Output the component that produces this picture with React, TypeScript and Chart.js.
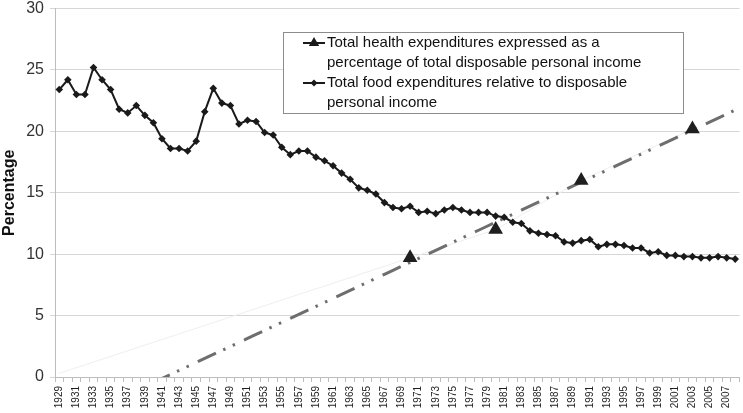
import React, { useEffect, useRef } from 'react';
import { Chart, registerables } from 'chart.js';

Chart.register(...registerables);

const years: number[] = [
  1929, 1930, 1931, 1932, 1933, 1934, 1935, 1936, 1937, 1938,
  1939, 1940, 1941, 1942, 1943, 1944, 1945, 1946, 1947, 1948,
  1949, 1950, 1951, 1952, 1953, 1954, 1955, 1956, 1957, 1958,
  1959, 1960, 1961, 1962, 1963, 1964, 1965, 1966, 1967, 1968,
  1969, 1970, 1971, 1972, 1973, 1974, 1975, 1976, 1977, 1978,
  1979, 1980, 1981, 1982, 1983, 1984, 1985, 1986, 1987, 1988,
  1989, 1990, 1991, 1992, 1993, 1994, 1995, 1996, 1997, 1998,
  1999, 2000, 2001, 2002, 2003, 2004, 2005, 2006, 2007, 2008,
];

const foodShare: number[] = [
  23.4, 24.2, 23.0, 23.0, 25.2, 24.2, 23.4, 21.8, 21.5, 22.1,
  21.3, 20.7, 19.4, 18.6, 18.6, 18.4, 19.2, 21.6, 23.5, 22.3,
  22.1, 20.6, 20.9, 20.8, 19.9, 19.7, 18.7, 18.1, 18.4, 18.4,
  17.9, 17.6, 17.2, 16.6, 16.1, 15.4, 15.2, 14.9, 14.2, 13.8,
  13.7, 13.9, 13.4, 13.5, 13.3, 13.6, 13.8, 13.6, 13.4, 13.4,
  13.4, 13.1, 13.0, 12.6, 12.5, 11.9, 11.7, 11.6, 11.5, 11.0,
  10.9, 11.1, 11.2, 10.6, 10.8, 10.8, 10.7, 10.5, 10.5, 10.1,
  10.2, 9.9, 9.9, 9.8, 9.8, 9.7, 9.7, 9.8, 9.7, 9.6,
];

const healthYears: number[] = [1970, 1980, 1990, 2003];
const healthShare: number[] = [9.7, 12.0, 16.0, 20.2];
const healthStartYear = 1929;
const healthStartValue = 0.3;

const yMin = 0;
const yMax = 30;
const yStep = 5;

const healthLabel: string[] = [
  'Total health expenditures expressed as a',
  'percentage of total disposable personal income',
];
const foodLabel: string[] = [
  'Total food expenditures relative to disposable',
  'personal income',
];
const yTitle = 'Percentage';

const FONT = '"Liberation Sans", Arial, Helvetica, sans-serif';

function regression(xs: number[], ys: number[]) {
  const n = xs.length;
  const mx = xs.reduce((a, b) => a + b, 0) / n;
  const my = ys.reduce((a, b) => a + b, 0) / n;
  let sxy = 0;
  let sxx = 0;
  for (let i = 0; i < n; i++) {
    sxy += (xs[i] - mx) * (ys[i] - my);
    sxx += (xs[i] - mx) * (xs[i] - mx);
  }
  const slope = sxy / sxx;
  return { slope, intercept: my - slope * mx };
}

const legendPlugin = {
  id: 'boxLegend',
  afterDraw(chart: any) {
    const ctx = chart.ctx as CanvasRenderingContext2D;
    const left = 283;
    const top = 32;
    const w = 400;
    const h = 81;
    ctx.save();
    ctx.fillStyle = '#ffffff';
    ctx.fillRect(left, top, w, h);
    ctx.strokeStyle = '#8c8c8c';
    ctx.lineWidth = 1;
    ctx.strokeRect(left + 0.5, top + 0.5, w, h);

    const textX = 327;
    const lineH = 20;
    const firstY = 43;
    ctx.font = `15px ${FONT}`;
    ctx.fillStyle = '#111111';
    ctx.textBaseline = 'middle';
    ctx.textAlign = 'left';
    const all = [...healthLabel, ...foodLabel];
    all.forEach((t, i) => ctx.fillText(t, textX, firstY + i * lineH));

    // health marker
    const hy = firstY;
    ctx.strokeStyle = '#1a1a1a';
    ctx.lineWidth = 2;
    ctx.beginPath();
    ctx.moveTo(303, hy);
    ctx.lineTo(325, hy);
    ctx.stroke();
    ctx.fillStyle = '#1a1a1a';
    ctx.beginPath();
    const r = 6;
    ctx.moveTo(314, hy - r);
    ctx.lineTo(314 + r * 0.866, hy + r * 0.5);
    ctx.lineTo(314 - r * 0.866, hy + r * 0.5);
    ctx.closePath();
    ctx.fill();

    // food marker
    const fy = firstY + 2 * lineH;
    ctx.beginPath();
    ctx.moveTo(303, fy);
    ctx.lineTo(325, fy);
    ctx.stroke();
    ctx.beginPath();
    const d = 3.5;
    ctx.moveTo(314, fy - d);
    ctx.lineTo(314 + d, fy);
    ctx.lineTo(314, fy + d);
    ctx.lineTo(314 - d, fy);
    ctx.closePath();
    ctx.fill();
    ctx.restore();
  },
};

export default function App() {
  const canvasRef = useRef<HTMLCanvasElement | null>(null);

  useEffect(() => {
    const canvas = canvasRef.current;
    if (!canvas) return;

    const healthPoints = years.map((y) => {
      const k = healthYears.indexOf(y);
      return k >= 0 ? healthShare[k] : null;
    });
    const healthConnector = years.map((y) => {
      if (y === healthStartYear) return healthStartValue;
      const k = healthYears.indexOf(y);
      return k >= 0 ? healthShare[k] : null;
    });
    const { slope, intercept } = regression(healthYears, healthShare);
    const trend = years.map((y) => intercept + slope * y);

    const chart = new Chart(canvas, {
      type: 'line',
      data: {
        labels: years.map(String),
        datasets: [
          {
            label: 'Health',
            data: healthPoints,
            showLine: false,
            pointStyle: 'triangle',
            pointRadius: 8.5,
            pointBackgroundColor: '#1f1f1f',
            pointBorderColor: '#1f1f1f',
            pointBorderWidth: 0,
            order: 0,
          },
          {
            label: 'Food',
            data: foodShare,
            borderColor: '#1a1a1a',
            borderWidth: 2,
            pointStyle: 'rectRot',
            pointRadius: 3.8,
            pointBackgroundColor: '#1a1a1a',
            pointBorderColor: '#1a1a1a',
            pointBorderWidth: 0,
            tension: 0,
            order: 1,
          },
          {
            label: 'Health trend',
            data: trend,
            borderColor: '#6e6e6e',
            borderWidth: 3,
            borderDash: [20, 8, 2.5, 8, 2.5, 10],
            pointRadius: 0,
            tension: 0,
            order: 2,
          },
          {
            label: 'Health connector',
            data: healthConnector,
            spanGaps: true,
            borderColor: '#eeeeee',
            borderWidth: 1,
            pointRadius: 0,
            tension: 0,
            order: 3,
          },
        ],
      },
      options: {
        animation: false,
        responsive: false,
        maintainAspectRatio: false,
        layout: { padding: { top: 0, right: 2, left: 0, bottom: 0 } },
        plugins: {
          legend: { display: false },
          tooltip: { enabled: false },
        },
        scales: {
          x: {
            type: 'category',
            offset: true,
            grid: {
              display: true,
              drawOnChartArea: false,
              drawTicks: true,
              tickLength: 5,
              color: '#bdbdbd',
              offset: true,
            },
            border: { color: '#bdbdbd' },
            ticks: {
              autoSkip: false,
              maxRotation: 90,
              minRotation: 90,
              padding: 4,
              color: '#1e1e1e',
              font: { family: FONT, size: 10 },
              callback: (_v: any, i: number) => (i % 2 === 0 ? String(years[i]) : ''),
            },
            afterFit: (s: any) => {
              s.height = 36;
              s.paddingLeft = 0;
              s.paddingRight = 0;
            },
          },
          y: {
            min: yMin,
            max: yMax,
            grid: {
              color: '#d6d6d6',
              drawTicks: true,
              tickLength: 5,
            },
            border: { color: '#bdbdbd' },
            ticks: {
              stepSize: yStep,
              padding: 6,
              color: '#333333',
              font: { family: FONT, size: 16 },
            },
            title: {
              display: true,
              text: yTitle,
              color: '#111111',
              padding: 0,
              font: { family: FONT, size: 16, weight: 'bold' },
            },
            afterFit: (s: any) => {
              s.width = 55;
              s.paddingTop = 8;
              s.paddingBottom = 0;
            },
          },
        },
      },
      plugins: [legendPlugin],
    } as any);

    return () => chart.destroy();
  }, []);

  return (
    <div style={{ position: 'fixed', left: 0, top: 0, width: 743, height: 413, overflow: 'hidden', background: '#fff' }}>
      <canvas ref={canvasRef} width={748} height={413} style={{ display: 'block', width: 748, height: 413 }} />
    </div>
  );
}
